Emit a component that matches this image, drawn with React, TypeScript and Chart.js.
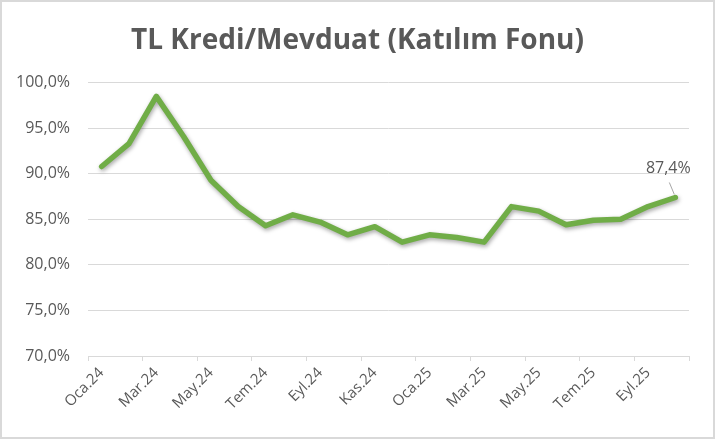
import React, { useEffect, useRef } from "react";
import { Chart, registerables } from "chart.js";

Chart.register(...registerables);

const TITLE = "TL Kredi/Mevduat (Katılım Fonu)";
const categories = [
  "Oca.24", "Şub.24", "Mar.24", "Nis.24", "May.24", "Haz.24", "Tem.24", "Ağu.24",
  "Eyl.24", "Eki.24", "Kas.24", "Ara.24", "Oca.25", "Şub.25", "Mar.25", "Nis.25",
  "May.25", "Haz.25", "Tem.25", "Ağu.25", "Eyl.25", "Eki.25",
];
const values = [
  90.8, 93.3, 98.5, 94.1, 89.3, 86.4, 84.3, 85.5, 84.7, 83.3, 84.2,
  82.5, 83.3, 83.0, 82.5, 86.4, 85.9, 84.4, 84.9, 85.0, 86.4, 87.4,
];
const yMin = 70;
const yMax = 100;
const yStep = 5;

const TEXT = "#595959";
const GRID = "#d9d9d9";
const LINE = "#70AD47";
const FONT = "'Open Sans', 'Noto Sans', sans-serif";

const fmt = (v: number) => v.toFixed(1).replace(".", ",") + "%";

const frame = {
  id: "frame",
  beforeDraw(chart: any) {
    const c = chart.ctx;
    c.save();
    c.fillStyle = "#ffffff";
    c.fillRect(0, 0, chart.width, chart.height);
    c.strokeStyle = GRID;
    c.lineWidth = 2;
    c.strokeRect(1, 1, chart.width - 2, chart.height - 2);
    c.restore();
  },
  afterDraw(chart: any) {
    const c = chart.ctx;
    c.save();
    c.fillStyle = TEXT;
    c.font = `bold 28px ${FONT}`;
    c.textAlign = "center";
    c.textBaseline = "middle";
    c.fillText(TITLE, chart.width / 2, 41);
    c.restore();
  },
};

const shadow = {
  id: "shadow",
  beforeDatasetDraw(chart: any) {
    const c = chart.ctx;
    c.save();
    c.shadowColor = "rgba(0,0,0,0.35)";
    c.shadowBlur = 4;
    c.shadowOffsetX = 1;
    c.shadowOffsetY = 2;
  },
  afterDatasetDraw(chart: any) {
    chart.ctx.restore();
  },
};

const lastLabel = {
  id: "lastLabel",
  afterDatasetsDraw(chart: any) {
    const meta = chart.getDatasetMeta(0);
    const i = values.length - 1;
    const pt = meta.data[i];
    if (!pt) return;
    const c = chart.ctx;
    c.save();
    c.strokeStyle = "#a6a6a6";
    c.lineWidth = 1;
    c.beginPath();
    c.moveTo(pt.x - 6, pt.y - 15);
    c.lineTo(pt.x - 1, pt.y - 3);
    c.stroke();
    c.fillStyle = TEXT;
    c.font = `16px ${FONT}`;
    c.textAlign = "center";
    c.textBaseline = "middle";
    c.fillText(fmt(values[i]), pt.x - 7, pt.y - 29);
    c.restore();
  },
};

export default function App() {
  const ref = useRef<HTMLCanvasElement | null>(null);

  useEffect(() => {
    if (!ref.current) return;
    const chart = new Chart(ref.current, {
      type: "line",
      data: {
        labels: categories,
        datasets: [
          {
            data: values,
            borderColor: LINE,
            borderWidth: 5.5,
            pointRadius: 0,
            pointHoverRadius: 0,
            tension: 0,
            fill: false,
            borderCapStyle: "round",
            borderJoinStyle: "round",
          },
        ],
      },
      options: {
        animation: false,
        responsive: false,
        devicePixelRatio: 1,
        layout: { padding: { left: 0, right: 26, top: 82.7, bottom: 0 } },
        plugins: {
          legend: { display: false },
          tooltip: { enabled: false },
          title: { display: false },
        },
        scales: {
          x: {
            offset: true,
            afterFit: (s: any) => {
              s.height = 83;
            },
            grid: {
              offset: true,
              drawOnChartArea: false,
              drawTicks: true,
              tickLength: 5,
              color: (ctx: any) =>
                ctx.index === undefined || ctx.index % 2 === 0 ? GRID : "rgba(0,0,0,0)",
              lineWidth: 1,
            },
            border: { display: true, color: GRID, width: 1 },
            ticks: {
              autoSkip: false,
              minRotation: 45,
              maxRotation: 45,
              padding: 3,
              color: TEXT,
              font: { family: FONT, size: 15 },
              callback: (_v: any, i: number) => (i % 2 === 0 ? categories[i] : ""),
            },
          },
          y: {
            min: yMin,
            max: yMax,
            afterFit: (s: any) => {
              s.width = 88;
            },
            grid: { color: GRID, lineWidth: 1, drawTicks: false },
            border: { display: false },
            ticks: {
              stepSize: yStep,
              padding: 18,
              color: TEXT,
              font: { family: FONT, size: 16 },
              callback: (v: any) => fmt(Number(v)),
            },
          },
        },
      },
      plugins: [frame, shadow, lastLabel],
    });
    return () => chart.destroy();
  }, []);

  return (
    <div style={{ position: "absolute", left: 0, top: 0, width: 715, height: 439 }}>
      <canvas ref={ref} width={715} height={439} style={{ display: "block" }} />
    </div>
  );
}
